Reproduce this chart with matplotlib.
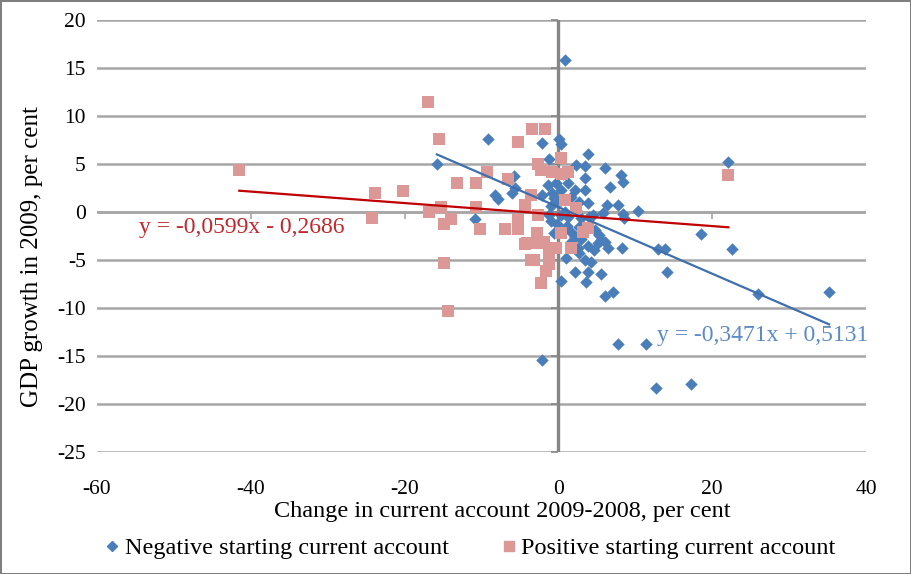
import numpy as np
import matplotlib.pyplot as plt
from matplotlib.lines import Line2D
from matplotlib.markers import TICKLEFT, TICKDOWN

plt.rcParams['font.family'] = ['Liberation Serif', 'DejaVu Serif']
plt.rcParams['axes.unicode_minus'] = False

# Negative starting current account (blue diamonds)
neg_x = [0.8, -15.8, -9.2, -2.1, 0.1, 0.4, -1.2, 3.9, -5.8, -8.3, -7.8, -6.0, -5.7,
         -2.1, -1.0, -10.9, -1.0, -0.6, 2.3, 3.4, 6.1, 8.2, 8.4, -1.3, -0.3, 0.4,
         1.3, 2.1, 3.4, 3.4, 6.7, -0.6, 0.4, 1.7, 2.7, 3.9, 6.3, 7.8, 10.3, 4.5,
         5.8, -1.2, 0.4, 1.3, 3.0, 4.0, 8.5, 8.4, 1.7, 2.7, 2.1, 1.7, 4.7, 5.3,
         5.6, 5.2, 6.0, 3.9, 6.5, 8.3, 1.0, 2.7, 3.4, 4.3, 2.1, 3.9, 5.6, 0.3,
         3.6, 6.0, 7.1, 7.8, 11.4, 12.7, 17.2, -2.1, 22.1, 18.5, 22.6, 12.9, 13.8,
         14.1, 26.0, 35.2, -0.8, 0.9, 2.3, -0.2, 1.1, 3.0, 4.6, 0.6, 2.5, 0.0]
neg_y = [15.8, 5.0, 7.6, 7.2, 7.6, 7.1, 5.5, 6.0, 3.7, 1.8, 1.4, 2.0, 2.5,
         1.8, 0.6, -0.7, -0.9, -2.2, 4.9, 4.8, 4.6, 3.9, 3.1, 2.8, 3.0, 2.3,
         3.0, 2.3, 2.3, 3.5, 2.6, 1.5, 1.2, 1.6, 1.0, 0.9, 0.7, 0.7, 0.1, -0.3,
         -0.1, -0.3, -0.3, -0.5, -0.6, -0.5, -0.6, -0.2, -2.1, -1.6, -2.6, -3.1, -1.9, -2.4,
         -2.9, -3.2, -3.1, -3.5, -3.7, -3.8, -4.8, -4.3, -5.0, -5.2, -6.2, -6.2, -6.5, -7.2,
         -7.3, -8.8, -8.3, -13.8, -13.8, -18.3, -17.9, -15.4, 5.2, -2.3, -3.9, -3.9, -3.9,
         -6.3, -8.5, -8.3, 2.0, 0.0, 0.2, -1.2, -1.5, -2.8, -4.0, 4.0, -3.8, 1.0]

# Positive starting current account (pink squares)
pos_x = [-41.5, -23.8, -24.2, -20.2, -17.0, -15.5, -16.8, -15.3, -14.0, -14.9, -13.2,
         -10.7, -9.3, -6.6, -10.7, -10.2, -6.9, -5.2, -5.2, -4.3, -4.3, -3.5, -14.9,
         -14.4, -3.6, -5.3, -3.4, -1.8, -2.6, -2.2, -0.8, 0.4, 1.2, 0.8, 2.3, -4.4,
         -2.6, -2.8, 0.3, 3.2, 3.9, -4.1, -2.8, -1.9, -1.2, -0.3, 1.7, -3.2, -1.2,
         -1.2, -1.6, -2.2, 22.1, 0.5]
pos_y = [4.4, 2.0, -0.6, 2.2, 11.5, 7.6, 0.0, 0.5, -0.7, -1.3, 3.0,
         3.0, 4.2, 3.4, 0.5, -1.8, -1.8, -0.8, -1.8, 0.6, -3.3, -5.0, -5.3,
         -10.3, 1.8, 7.3, 8.6, 8.6, 5.0, 4.4, 4.2, 5.6, 4.2, 1.2, 0.4, 0.7,
         -0.3, -2.2, -2.2, -2.1, -1.7, -3.2, -3.2, -3.1, -3.7, -3.7, -3.8, -5.0, -5.0,
         -5.4, -6.1, -7.4, 3.9, 4.0]

# Trendline coefficients as printed on the chart
neg_slope, neg_icpt = -0.3471, 0.5131
pos_slope, pos_icpt = -0.0599, -0.2686

x_ticks = [-60, -40, -20, 0, 20, 40]
y_ticks = [-25, -20, -15, -10, -5, 0, 5, 10, 15, 20]

blue = '#4A7EBB'
pink = '#DB9896'

fig = plt.figure(figsize=(9.11, 5.74), dpi=100, edgecolor='#7F7F7F', linewidth=2)
ax = fig.add_axes([97 / 911, 1 - 452 / 574, 769 / 911, 432 / 574])

ax.set_xlim(-60, 40)
ax.set_ylim(-25, 20)
ax.set_xticks(x_ticks)
ax.set_yticks(y_ticks)
ax.tick_params(axis='both', length=0, labelsize=15.5)
ax.tick_params(axis='x', pad=20)
ax.tick_params(axis='y', pad=8)
for s in ax.spines.values():
    s.set_visible(False)
ax.yaxis.grid(True, color='#A6A6A6', linewidth=1.8)
ax.set_axisbelow(True)

# axis lines crossing at the origin, with their small tick marks
ax.axhline(0, color='#A6A6A6', lw=1.8, zorder=1)
ax.plot([-40, -20, 20], [0, 0, 0], ls='', marker=TICKDOWN, ms=5, mew=1.2,
        color='#A6A6A6', zorder=1)
ax.axvline(0, color='#868686', lw=2.4, zorder=1)
ax.plot(np.zeros(len(y_ticks)), y_ticks, ls='', marker=TICKLEFT, ms=5, mew=1.2,
        color='#868686', zorder=1, clip_on=False)

ax.scatter(neg_x, neg_y, marker='D', s=40, color=blue, zorder=3, linewidths=0)
ax.scatter(pos_x, pos_y, marker='s', s=72, color=pink, zorder=3, linewidths=0)

xr = np.array([min(neg_x), max(neg_x)])
ax.plot(xr, neg_slope * xr + neg_icpt, color='#3F6FAE', lw=1.6, zorder=4)
xr = np.array([min(pos_x), max(pos_x)])
ax.plot(xr, pos_slope * xr + pos_icpt, color='#C00000', lw=1.6, zorder=4)

ax.text(-54.6, -1.6, 'y = -0,0599x - 0,2686', color='#C0282D', fontsize=17,
        va='center', ha='left')
ax.text(12.8, -12.9, 'y = -0,3471x + 0,5131', color='#5B8AC6', fontsize=17,
        va='center', ha='left', clip_on=False)

fig.text(502 / 911, 1 - 512 / 574, 'Change in current account 2009-2008, per cent',
         fontsize=17.5, ha='center', va='center')
fig.text(32 / 911, 1 - 257 / 574, 'GDP growth in 2009, per cent', fontsize=18,
         rotation=90, ha='center', va='center')

handles = [Line2D([], [], marker='D', ls='', color=blue, markersize=5),
           Line2D([], [], marker='s', ls='', color=pink, markersize=6.5)]
fig.legend(handles, ['Negative starting current account', 'Positive starting current account'],
           loc='center', bbox_to_anchor=(468 / 911, 1 - 548 / 574), ncol=2, frameon=False,
           fontsize=17.5, handletextpad=0.0, columnspacing=2.0, handlelength=1.0)

fig.savefig('out.png', dpi=100)
